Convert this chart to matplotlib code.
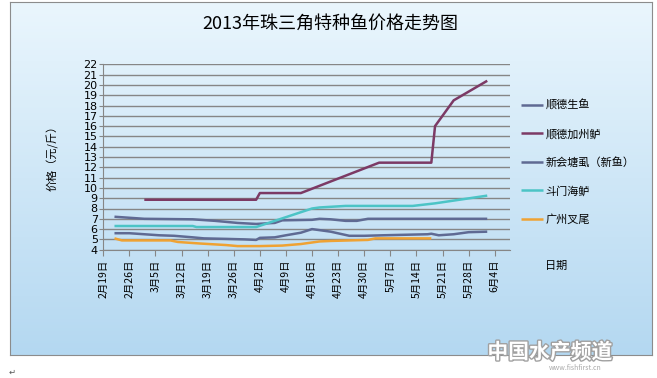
import matplotlib
matplotlib.use("Agg")
import matplotlib.pyplot as plt
import matplotlib.patheffects as pe
import numpy as np
import pandas as pd

plt.rcParams['font.family'] = ['Noto Sans CJK SC', 'DejaVu Sans']

# 数据 (2013年, 元/斤)
shengyu_dates = ['02-22', '02-26', '03-02', '03-15', '03-21', '03-27', '04-01', '04-06',
                 '04-08', '04-16', '04-18', '04-21', '04-25', '04-28', '05-01', '06-02']
shengyu_vals = [7.2, 7.1, 7.0, 6.95, 6.8, 6.6, 6.5, 6.6,
                6.85, 6.9, 7.0, 6.95, 6.8, 6.8, 7.0, 7.0]

jiazhoulu_dates = ['03-02', '04-01', '04-02', '04-13', '05-04', '05-18', '05-19', '05-24', '06-02']
jiazhoulu_vals = [8.85, 8.85, 9.5, 9.5, 12.45, 12.45, 16.0, 18.5, 20.4]

tangshi_dates = ['02-22', '02-26', '03-02', '03-06', '03-10', '03-15', '03-18', '03-24', '03-29',
                 '04-01', '04-02', '04-06', '04-09', '04-13', '04-16', '04-21', '04-26', '04-30',
                 '05-05', '05-17', '05-18', '05-20', '05-24', '05-28', '06-02']
tangshi_vals = [5.6, 5.6, 5.5, 5.4, 5.35, 5.2, 5.1, 5.05, 5.0,
                4.95, 5.15, 5.2, 5.4, 5.65, 6.0, 5.75, 5.35, 5.35,
                5.4, 5.5, 5.55, 5.4, 5.5, 5.7, 5.75]

doumen_dates = ['02-22', '03-15', '03-16', '04-01', '04-16', '04-18', '04-25', '05-13', '05-19', '06-02']
doumen_vals = [6.3, 6.3, 6.2, 6.2, 8.0, 8.1, 8.25, 8.25, 8.5, 9.25]

chawei_dates = ['02-22', '02-24', '03-09', '03-11', '03-17', '03-24', '03-27', '04-02',
                '04-08', '04-13', '04-16', '04-18', '04-21', '05-01', '05-03', '05-18']
chawei_vals = [5.1, 4.9, 4.9, 4.75, 4.6, 4.45, 4.35, 4.35,
               4.4, 4.55, 4.7, 4.8, 4.85, 4.95, 5.1, 5.1]

series_names = ['顺德生鱼', '顺德加州鲈', '新会塘虱（新鱼）', '斗门海鲈', '广州叉尾']
series_colors = ['#5F6A93', '#7C3A65', '#5F6A93', '#4CC4C6', '#EFA233']
series_dates = [shengyu_dates, jiazhoulu_dates, tangshi_dates, doumen_dates, chawei_dates]
series_vals = [shengyu_vals, jiazhoulu_vals, tangshi_vals, doumen_vals, chawei_vals]


def to_dt(lst):
    return pd.to_datetime(['2013-' + s for s in lst])


fig = plt.figure(figsize=(6.57, 3.78), dpi=100)
fig.patch.set_facecolor('white')

# 背景渐变框
bg = fig.add_axes([10 / 657, (378 - 355) / 378, 642 / 657, 353 / 378])
grad = np.linspace(0, 1, 256).reshape(-1, 1)
top = np.array([0xEA, 0xF6, 0xFD]) / 255
bot = np.array([0xB4, 0xD8, 0xF1]) / 255
img = top + (bot - top) * grad[:, :, None] * np.ones((1, 2, 1))
bg.imshow(img, aspect='auto', extent=[0, 1, 0, 1])
bg.set_xticks([])
bg.set_yticks([])
for s in bg.spines.values():
    s.set_color('#8C8C8C')
bg.set_zorder(0)

ax = fig.add_axes([103.3 / 657, (378 - 249.7) / 378, (509.6 - 103.3) / 657, (249.7 - 64.3) / 378])
ax.set_facecolor('none')
ax.set_zorder(1)

for name, col, d, v in zip(series_names, series_colors, series_dates, series_vals):
    ax.plot(to_dt(d), v, color=col, lw=1.8, label=name, solid_capstyle='butt')

ax.set_ylim(4, 22)
ax.set_yticks(range(4, 23))
ax.set_xlim(pd.Timestamp('2013-02-19'), pd.Timestamp('2013-06-08'))
xt = pd.date_range('2013-02-19', '2013-06-04', freq='7D')
ax.set_xticks(xt)
ax.set_xticklabels([f'{t.month}月{t.day}日' for t in xt], rotation=90, fontsize=7.5)
ax.tick_params(axis='y', labelsize=8, length=3, color='#868686', pad=1)
ax.tick_params(axis='x', length=4, color='#868686', pad=3)
ax.yaxis.grid(True, color='#868686', lw=1)
ax.set_axisbelow(True)
for k in ['top', 'right']:
    ax.spines[k].set_visible(False)
for k in ['left', 'bottom']:
    ax.spines[k].set_color('#868686')
for lbl in ax.get_yticklabels():
    lbl.set_family(['DejaVu Sans'])

fig.text(330 / 657, (378 - 24) / 378, '2013年珠三角特种鱼价格走势图', ha='center', va='center', fontsize=13)
fig.text(53 / 657, (378 - 155) / 378, '价格（元/斤）', rotation=90, ha='center', va='center', fontsize=8)
fig.text(545 / 657, (378 - 266) / 378, '日期', ha='left', va='center', fontsize=8)

fig.legend(loc='upper left', bbox_to_anchor=(521 / 657, (378 - 100) / 378), frameon=False,
           fontsize=8, handlelength=2.0, handletextpad=0.2, labelspacing=1.6,
           borderpad=0, borderaxespad=0)

# 水印
wm = fig.text(550 / 657, (378 - 352) / 378, '中国水产频道', ha='center', va='center',
              fontsize=15, color='white', fontweight='bold', style='italic')
wm.set_path_effects([pe.withStroke(linewidth=2, foreground='#A0A0A0')])
fig.text(575 / 657, (378 - 368) / 378, 'www.fishfirst.cn', ha='center', va='center',
         fontsize=5, color='#A8A8A8')
fig.text(12 / 657, (378 - 372) / 378, '↵', ha='center', va='center', fontsize=6, color='#555555')

fig.savefig('out.png', dpi=100)
